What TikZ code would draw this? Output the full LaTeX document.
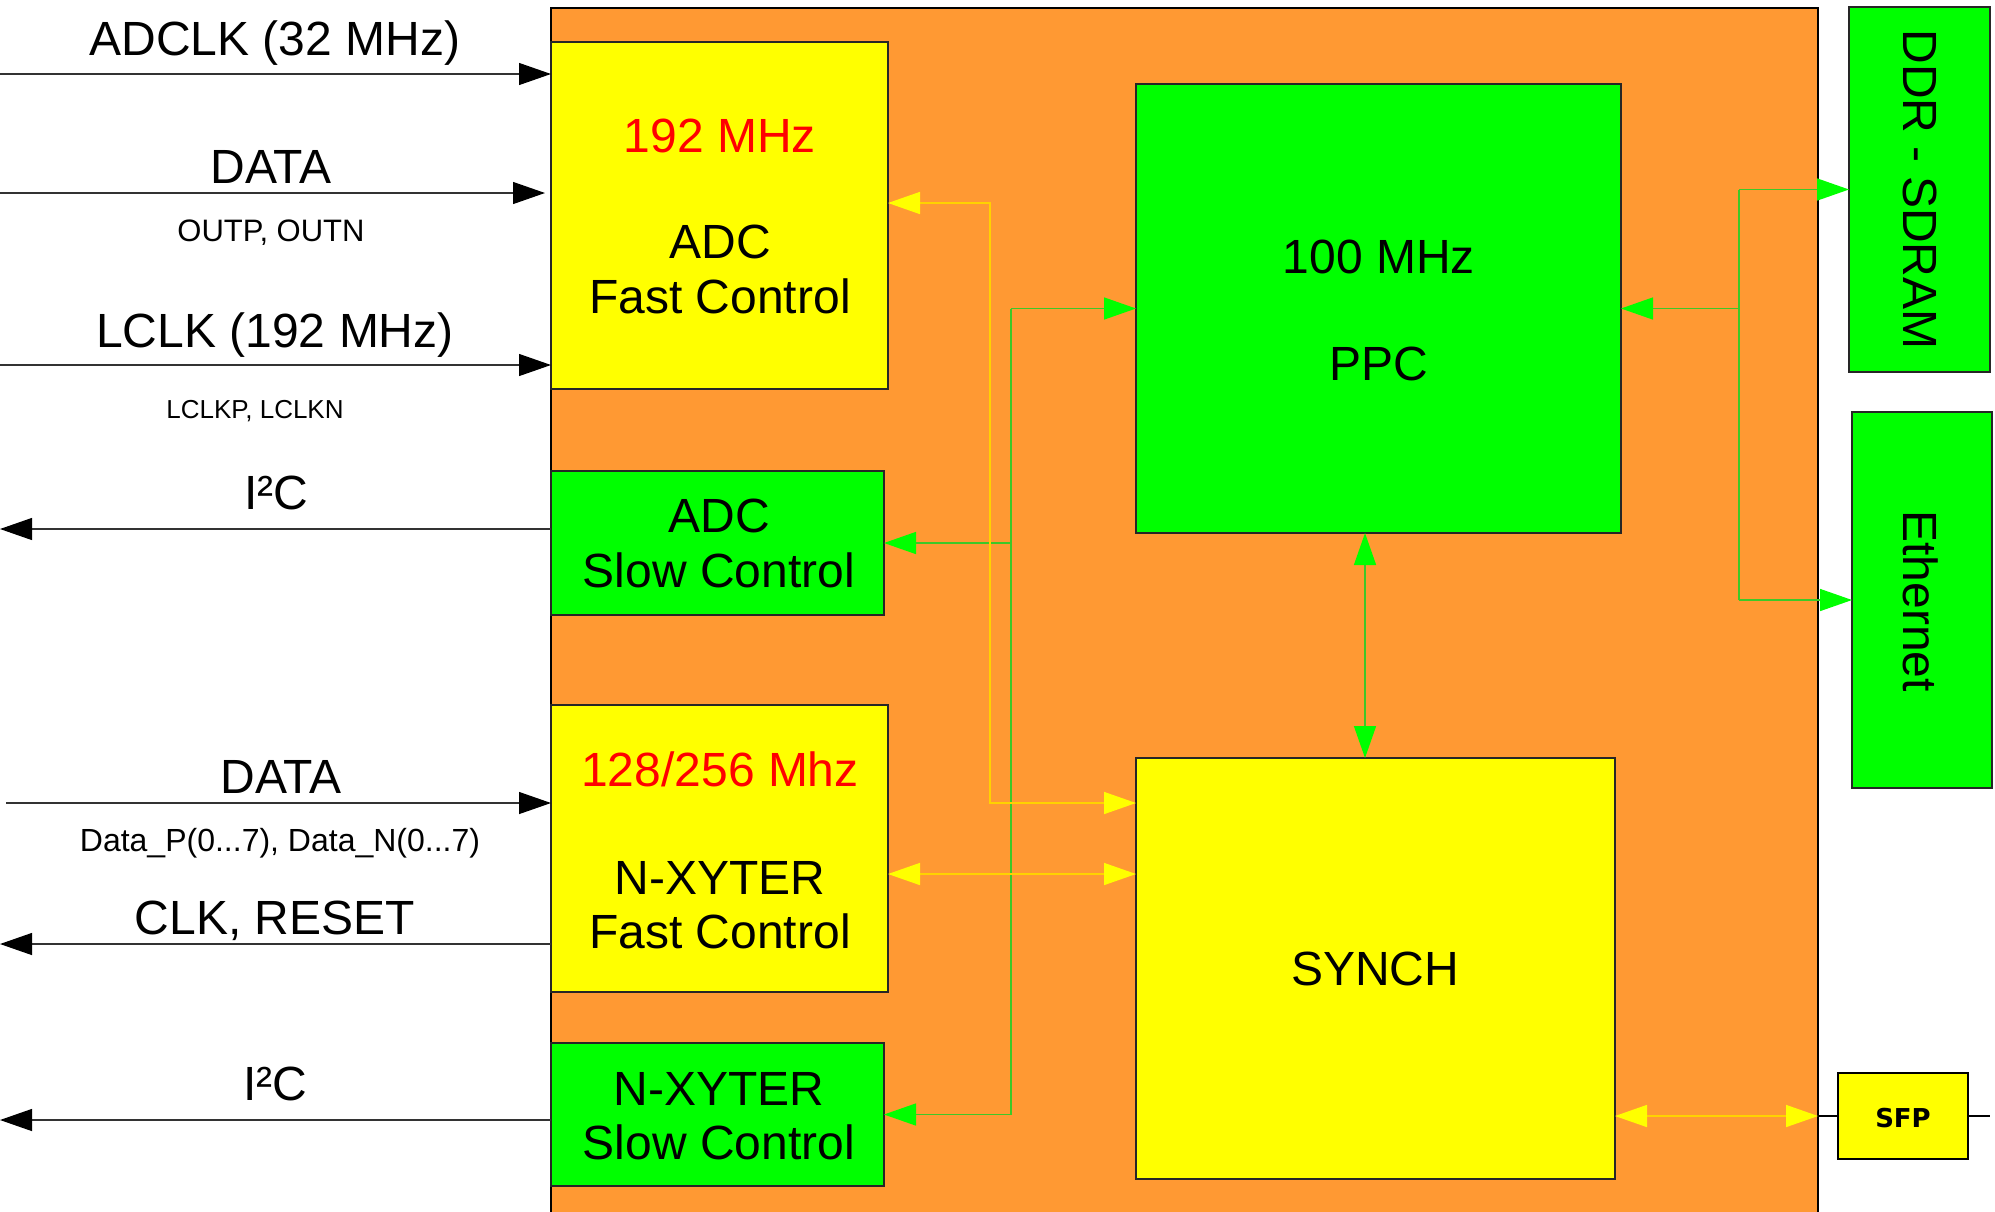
\documentclass[tikz,border=0pt]{standalone}
\usepackage{fontspec}
\setmainfont{Liberation Sans}
\newfontfamily\sfpfont{DejaVu Sans}
\usetikzlibrary{arrows.meta}
\definecolor{fpgaor}{HTML}{FF9933}
\definecolor{yel}{HTML}{FFFF00}
\definecolor{grn}{HTML}{00FF00}
\definecolor{glinec}{HTML}{3CC828}
\definecolor{ylinec}{HTML}{FFD200}
\definecolor{redtxt}{HTML}{FF0000}
\begin{document}
\begin{tikzpicture}[x=0.5pt,y=-0.5pt,
  box/.style={draw=black!85, line width=0.7pt, inner sep=0pt, outer sep=0pt},
  bigtxt/.style={font=\fontsize{24}{28}\selectfont, inner sep=0pt, anchor=base},
  sig/.style={draw=black!80, line width=0.6pt},
  gcon/.style={draw=glinec, line width=0.75pt},
  ycon/.style={draw=ylinec, line width=0.75pt},
  btip/.tip={Triangle[length=16pt,width=11pt,color=black]},
  gtip/.tip={Triangle[length=16pt,width=11pt,color=grn]},
  ytip/.tip={Triangle[length=16pt,width=11pt,color=yel]}
]
\useasboundingbox (0,0) rectangle (1995,1211);
\fill[white] (0,0) rectangle (1995,1211);

% FPGA container
\node[draw=black, line width=1.2pt, fill=fpgaor, inner sep=0pt, outer sep=0pt,
      minimum width=633.5pt, minimum height=611pt] (fpga) at (1184.5,619) {};

% inner blocks
\node[box, fill=yel, minimum width=168.5pt, minimum height=173.5pt] (adcf) at (719.5,215.5) {};
\node[box, fill=grn, minimum width=166.5pt, minimum height=72pt] (adcs) at (717.5,543) {};
\node[box, fill=yel, minimum width=168.5pt, minimum height=143.5pt] (nxf) at (719.5,848.5) {};
\node[box, fill=grn, minimum width=166.5pt, minimum height=71.5pt] (nxs) at (717.5,1114.5) {};
\node[box, fill=grn, minimum width=242.5pt, minimum height=224.5pt] (ppc) at (1378.5,308.5) {};
\node[box, fill=yel, minimum width=239.5pt, minimum height=210.5pt] (synch) at (1375.5,968.5) {};

% outer blocks
\node[box, fill=grn, minimum width=70.5pt, minimum height=182.5pt] (ddr) at (1919.5,189.5) {};
\node[box, fill=grn, minimum width=70pt, minimum height=188pt] (eth) at (1922,600) {};
\node[draw=black, line width=1.1pt, fill=yel, inner sep=0pt, outer sep=0pt,
      minimum width=65pt, minimum height=43pt] (sfp) at (1903,1116) {};

% left signal lines
\coordinate (inA) at (0,74);
\coordinate (inB) at (0,193);
\coordinate (inC) at (0,365);
\coordinate (outD) at (0,529);
\coordinate (inE) at (6,803);
\coordinate (outF) at (0,944);
\coordinate (outG) at (0,1120);
\draw[sig,-{btip}] (inA) -- (inA -| adcf.west);
\draw[sig,-{btip}] (inB) -- ([xshift=-3pt]inB -| adcf.west);
\draw[sig,-{btip}] (inC) -- (inC -| adcf.west);
\draw[sig,-{btip}] (outD -| adcs.west) -- (outD);
\draw[sig,-{btip}] (inE) -- (inE -| nxf.west);
\draw[sig,-{btip}] (outF -| nxf.west) -- (outF);
\draw[sig,-{btip}] (outG -| nxs.west) -- (outG);

% green connectors
\coordinate (gtop) at (1011,308.5);
\coordinate (gmid) at (1011,543);
\coordinate (gbot) at (1011,1114.5);
\draw[gcon,-{gtip}] (gtop) -- (ppc.west);
\draw[gcon] (gtop) -- (gbot);
\draw[gcon,-{gtip}] (gmid) -- (adcs.east);
\draw[gcon,-{gtip}] (gbot) -- (nxs.east);
\coordinate (sx) at (1365,0);
\draw[gcon,{gtip}-{gtip}] (ppc.south -| sx) -- (synch.north -| sx);
\coordinate (rtop) at (1739,189.5);
\coordinate (rmid) at (1739,308.5);
\coordinate (rbot) at (1739,600);
\draw[gcon,-{gtip}] (rmid) -- (ppc.east);
\draw[gcon] (rtop) -- (rbot);
\draw[gcon,-{gtip}] (rtop) -- (ddr.west);
\draw[gcon,-{gtip}] (rbot) -- (eth.west);

% yellow connectors
\coordinate (ya) at (990,203);
\coordinate (yb) at (990,803);
\coordinate (yc) at (1000,874);
\draw[ycon,{ytip}-{ytip}] (ya -| adcf.east) -- (ya) -- (yb) -- (yb -| synch.west);
\draw[ycon,{ytip}-{ytip}] (yc -| nxf.east) -- (yc -| synch.west);
\coordinate (fr) at (1818,1116);
\coordinate (sfpout) at (1990,1116);
\draw[ycon,{ytip}-{ytip}] (fr -| synch.east) -- (fr);
\draw[draw=black, line width=1.1pt] (fr) -- (sfp.west);
\draw[draw=black, line width=1.1pt] (sfp.east) -- (sfpout);

% left labels
\node[bigtxt] (lA) at (275,55) {ADCLK (32 MHz)};
\node[bigtxt] (lB) at (271,183) {DATA};
\node[inner sep=0pt, anchor=base, font=\fontsize{15.5}{18}\selectfont] (lB2) at (271,241) {OUTP, OUTN};
\node[bigtxt] (lC) at (275,347) {LCLK (192 MHz)};
\node[inner sep=0pt, anchor=base, font=\fontsize{13}{16}\selectfont] (lC2) at (255,418) {LCLKP, LCLKN};
\node[bigtxt] (lD) at (276,509) {I²C};
\node[bigtxt] (lE) at (281,793) {DATA};
\node[inner sep=0pt, anchor=base, font=\fontsize{16}{19}\selectfont] (lE2) at (280,851) {Data\_P(0...7), Data\_N(0...7)};
\node[bigtxt] (lF) at (275,934) {CLK, RESET};
\node[bigtxt] (lG) at (275,1100) {I²C};

% block labels
\node[bigtxt, text=redtxt] (tA0) at (720,152) {192 MHz};
\node[bigtxt] (tA1) at (720,258) {ADC};
\node[bigtxt] (tA2) at (720,313) {Fast Control};
\node[bigtxt] (tB1) at (719,532) {ADC};
\node[bigtxt] (tB2) at (719,587) {Slow Control};
\node[bigtxt, text=redtxt] (tC0) at (720,786) {128/256 Mhz};
\node[bigtxt] (tC1) at (720,894) {N-XYTER};
\node[bigtxt] (tC2) at (720,948) {Fast Control};
\node[bigtxt] (tD1) at (719,1105) {N-XYTER};
\node[bigtxt] (tD2) at (719,1159) {Slow Control};
\node[bigtxt] (tP1) at (1379,273) {100 MHz};
\node[bigtxt] (tP2) at (1379,380) {PPC};
\node[bigtxt] (tS) at (1375,985) {SYNCH};
\node[font=\fontsize{24}{28}\selectfont, inner sep=0pt, rotate=-90] (tDDR) at (1920,189.5) {DDR - SDRAM};
\node[font=\fontsize{24}{28}\selectfont, inner sep=0pt, rotate=-90] (tEth) at (1921,601) {Ethernet};
\node[font=\sfpfont\bfseries\fontsize{13}{16}\selectfont, inner sep=0pt, anchor=base] (tSFP) at (1903,1127) {SFP};
\end{tikzpicture}
\end{document}
